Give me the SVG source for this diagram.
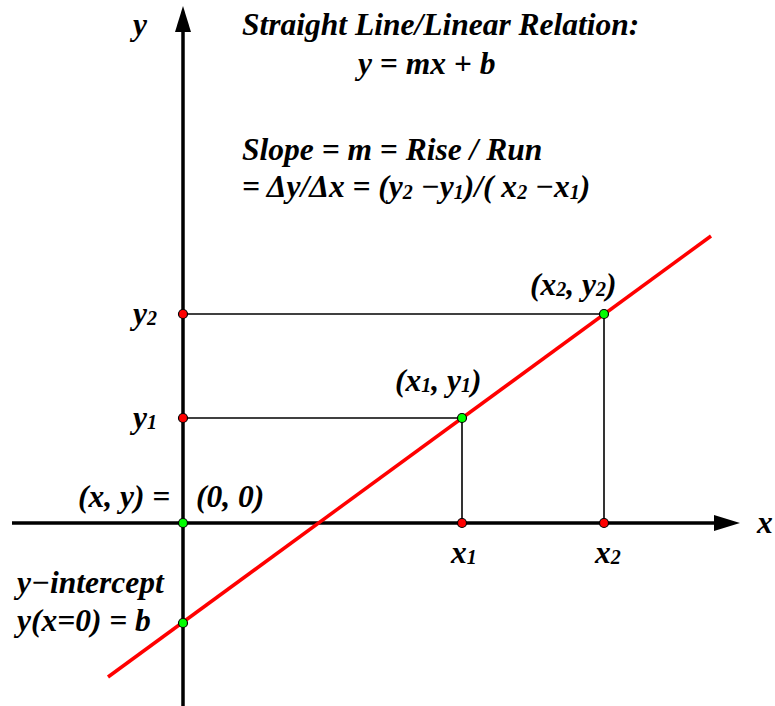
<svg xmlns="http://www.w3.org/2000/svg" width="775" height="706" viewBox="0 0 775 706">
<defs>
<style>
text{font-family:"Liberation Serif","Times New Roman",serif;font-weight:bold;font-style:italic;fill:#000;font-size:31.5px}
.s{font-size:20px}
.axis{stroke:#000;stroke-width:3.5;fill:none}
.thin{stroke:#000;stroke-width:1.6;fill:none}
.red{stroke:#f00;stroke-width:3.5;fill:none}
.g{fill:#0f0;stroke:#000;stroke-width:1.2}
.r{fill:#f00;stroke:#000;stroke-width:1.2}
</style>
</defs>
<rect width="775" height="706" fill="#fff"/>
<g id="connectors">
<line class="thin" x1="183" y1="314" x2="604" y2="314"/>
<line class="thin" x1="183" y1="418" x2="462" y2="418"/>
<line class="thin" x1="462" y1="418" x2="462" y2="523"/>
<line class="thin" x1="604" y1="314" x2="604" y2="523"/>
<line class="axis" x1="12" y1="523" x2="716" y2="523"/>
<polygon points="740,523 714,515 714,531" fill="#000"/>
<line class="axis" x1="183" y1="706" x2="183" y2="30"/>
<polygon points="183,6 175,32 191,32" fill="#000"/>
<line class="red" x1="108" y1="677" x2="711" y2="236"/>
</g>
<g id="title">
<text x="242" y="35">Straight Line/Linear Relation:</text>
<text x="358" y="74">y = mx + b</text>
<text x="242" y="160">Slope = m = Rise / Run</text>
<text x="242" y="197">= Δy/Δx = (y<tspan class="s" dy="2">2</tspan><tspan dy="-2"> −y</tspan><tspan class="s" dy="2">1</tspan><tspan dy="-2">)/( x</tspan><tspan class="s" dy="2">2</tspan><tspan dy="-2"> −x</tspan><tspan class="s" dy="2">1</tspan><tspan dy="-2">)</tspan></text>
</g>
<g id="axis-labels">
<text x="133" y="35">y</text>
<text x="757" y="533">x</text>
</g>
<g id="origin">
<circle class="g" cx="183" cy="523" r="4.5"/>
<text x="78" y="507">(x, y) =</text>
<text x="196" y="507">(0, 0)</text>
</g>
<g id="intercept">
<circle class="g" cx="183" cy="623" r="4.5"/>
<text x="17" y="593">y−intercept</text>
<text x="17" y="631">y(x=0) = b</text>
</g>
<g id="y2">
<circle class="r" cx="183" cy="314" r="4.5"/>
<text x="133" y="324">y<tspan class="s" dy="1">2</tspan></text>
</g>
<g id="y1">
<circle class="r" cx="183" cy="418" r="4.5"/>
<text x="133" y="428">y<tspan class="s" dy="1">1</tspan></text>
</g>
<g id="x1">
<circle class="r" cx="462" cy="523" r="4.5"/>
<text x="451" y="563">x<tspan class="s" dy="1">1</tspan></text>
</g>
<g id="x2">
<circle class="r" cx="604" cy="523" r="4.5"/>
<text x="595" y="563">x<tspan class="s" dy="1">2</tspan></text>
</g>
<g id="p1">
<circle class="g" cx="462" cy="418" r="4.5"/>
<text x="395" y="391">(x<tspan class="s" dy="1">1</tspan><tspan dy="-1">, y</tspan><tspan class="s" dy="1">1</tspan><tspan dy="-1">)</tspan></text>
</g>
<g id="p2">
<circle class="g" cx="604" cy="314" r="4.5"/>
<text x="530" y="295">(x<tspan class="s" dy="1">2</tspan><tspan dy="-1">, y</tspan><tspan class="s" dy="1">2</tspan><tspan dy="-1">)</tspan></text>
</g>
</svg>
